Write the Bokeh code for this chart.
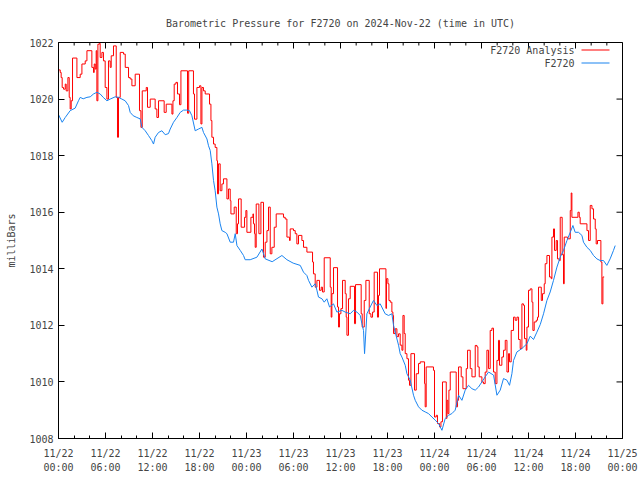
import math
from bokeh.plotting import figure
from bokeh.models import FixedTicker, Label, Arrow
from bokeh.embed import file_html
from bokeh.resources import INLINE

# hours since 2024-11-22 00:00 UTC
blue_hours = [0.0, 0.47, 0.86, 1.49, 2.13, 2.55, 2.77, 3.15, 3.63, 4.05, 4.47, 4.90, 5.32, 5.71,
              6.18, 6.60, 7.24, 7.66, 8.09, 8.51, 8.94, 9.15, 9.54, 10.0, 10.43, 10.65, 11.07,
              11.49, 11.92, 12.13, 12.34, 12.77, 13.2, 13.62, 14.04, 14.26, 14.68, 15.12, 15.54,
              15.96, 16.39, 16.72, 17.03, 17.45, 17.87, 18.31, 18.51, 18.95, 19.15, 19.37, 19.58,
              19.79, 20.0, 20.22, 20.43, 20.64, 20.86, 21.28, 21.5, 21.92, 22.34, 22.56, 22.78,
              23.2, 23.62, 23.83, 24.47, 25.33, 25.97, 26.39, 27.28, 28.52, 29.16, 29.96, 30.86,
              31.28, 31.71, 31.92, 32.35, 32.77, 32.99, 33.19, 33.63, 33.92, 34.26, 34.6, 35.11,
              35.54, 36.18, 36.6, 37.24, 37.66, 38.1, 38.52, 38.73, 38.94, 39.07, 39.37, 39.79,
              40.21, 40.65, 41.07, 41.7, 42.13, 42.56, 42.77, 42.98, 43.41, 43.62, 43.84, 44.26,
              44.48, 44.9, 45.32, 45.54, 45.96, 46.39, 46.81, 47.24, 47.67, 48.09, 48.51, 48.95,
              49.37, 49.79, 50.22, 50.64, 51.07, 51.5, 51.92, 52.34, 52.78, 53.2, 53.62, 54.05,
              54.47, 54.9, 55.54, 55.97, 56.39, 56.81, 57.25, 57.58, 57.88, 58.09, 58.52, 59.16,
              59.8, 60.22, 60.64, 61.07, 61.5, 61.92, 62.35, 62.77, 63.19, 63.63, 64.05, 64.47,
              64.91, 65.33, 65.67, 65.96, 66.38, 66.82, 67.02, 67.46, 67.88, 68.3, 68.73, 69.16,
              69.58, 70.0, 70.42, 70.85, 71.07]
blue_mb = [1019.45, 1019.18, 1019.35, 1019.59, 1019.68, 1019.94, 1020.06, 1020.01, 1020.06,
           1020.08, 1020.18, 1020.24, 1020.18, 1020.06, 1019.94, 1020.0, 1020.08, 1020.06,
           1020.0, 1019.94, 1019.77, 1019.53, 1019.41, 1019.35, 1019.30, 1019.0, 1018.88,
           1018.71, 1018.53, 1018.41, 1018.65, 1018.82, 1018.88, 1018.74, 1018.78, 1018.94,
           1019.18, 1019.35, 1019.53, 1019.61, 1019.61, 1019.59, 1019.41, 1018.88, 1018.94,
           1019.0, 1018.82, 1018.59, 1018.35, 1018.18, 1017.71, 1017.12, 1016.76, 1016.18,
           1015.94, 1015.59, 1015.35, 1015.29, 1015.24, 1014.94, 1014.94, 1015.24, 1014.82,
           1014.65, 1014.47, 1014.32, 1014.32, 1014.41, 1014.7, 1014.35, 1014.25, 1014.47,
           1014.32, 1014.2, 1014.12, 1013.88, 1013.76, 1013.59, 1013.35, 1013.47, 1013.24,
           1013.0, 1012.94, 1012.82, 1012.94, 1012.65, 1012.76, 1012.47, 1012.53, 1012.47,
           1012.41, 1012.53, 1012.47, 1012.35, 1012.06, 1011.82, 1011.0, 1012.41, 1012.65,
           1012.88, 1012.7, 1012.76, 1012.41, 1012.35, 1012.41, 1012.0, 1011.76, 1011.3,
           1011.0, 1010.88, 1010.59, 1010.29, 1010.06, 1009.53, 1009.35, 1009.12, 1009.0,
           1008.94, 1008.88, 1008.76, 1008.65, 1008.53, 1008.29, 1008.71, 1008.82, 1008.88,
           1009.0, 1009.53, 1009.35, 1009.71, 1009.88, 1009.76, 1009.71, 1009.82, 1010.0,
           1010.18, 1010.35, 1010.24, 1009.53, 1009.71, 1010.12, 1010.06, 1009.88, 1010.29,
           1010.76, 1011.06, 1011.18, 1011.35, 1011.62, 1011.5, 1011.76, 1012.03, 1012.41,
           1012.88, 1013.18, 1013.59, 1014.06, 1014.41, 1014.65, 1015.0, 1015.29, 1015.53,
           1015.29, 1015.29, 1015.18, 1014.94, 1014.76, 1014.65, 1014.47, 1014.35, 1014.29,
           1014.29, 1014.12, 1014.35, 1014.65, 1014.82]

red_hours = [0.0, 0.22, 0.34, 0.47, 0.64, 0.86, 0.98, 1.20, 1.37, 1.49, 1.62, 1.79, 2.35, 2.77,
             2.99, 3.41, 3.63, 4.26, 4.47, 4.56, 4.69, 4.81, 4.90, 5.03, 5.23, 5.32, 5.54, 5.74,
             5.96, 6.18, 6.38, 6.60, 6.73, 7.02, 7.37, 7.53, 7.66, 7.88, 8.30, 8.52, 8.94, 9.15,
             9.37, 9.79, 10.34, 10.52, 10.69, 11.20, 11.36, 11.71, 12.34, 12.56, 12.77, 13.49,
             13.75, 14.48, 14.61, 14.77, 14.99, 15.19, 15.45, 15.63, 16.47, 16.62, 17.23, 17.36,
             17.67, 18.00, 18.18, 18.31, 18.51, 18.73, 19.28, 19.46, 19.58, 19.79, 20.00, 20.22,
             20.30, 20.43, 20.64, 20.86, 21.06, 21.50, 21.70, 21.92, 22.01, 22.43, 22.69, 22.85,
             22.98, 23.32, 23.75, 23.92, 24.05, 24.56, 24.82, 24.89, 25.02, 25.11, 25.24, 25.58,
             25.84, 26.17, 26.39, 26.61, 26.81, 27.03, 27.24, 27.54, 27.79, 28.72, 28.94, 29.16,
             29.49, 29.58, 30.00, 30.22, 30.43, 30.64, 31.07, 31.28, 31.71, 32.43, 32.55, 32.77,
             32.99, 33.32, 33.54, 33.70, 33.92, 34.69, 34.81, 34.90, 35.11, 35.62, 35.75, 35.87,
             36.05, 36.26, 36.60, 36.73, 36.82, 37.02, 37.24, 37.79, 37.92, 38.64, 38.77, 39.03,
             39.24, 39.67, 39.88, 40.09, 40.30, 40.72, 40.85, 40.98, 41.80, 41.87, 42.05, 42.18,
             42.35, 42.56, 42.69, 42.77, 42.98, 43.20, 43.41, 43.62, 43.84, 43.97, 44.13, 44.26,
             44.48, 44.68, 44.81, 44.99, 45.45, 45.67, 45.96, 46.18, 46.73, 46.81, 46.94, 47.87,
             48.00, 48.22, 48.38, 48.64, 48.82, 49.02, 49.50, 49.59, 49.71, 49.84, 50.01, 50.77,
             50.94, 51.07, 51.41, 51.63, 52.05, 52.22, 52.56, 52.78, 53.20, 53.42, 53.54, 53.71,
             54.05, 54.26, 54.47, 54.69, 54.90, 55.11, 55.33, 55.53, 55.75, 55.97, 56.17, 56.30,
             56.60, 56.81, 57.03, 57.25, 57.45, 57.58, 57.79, 58.09, 58.30, 58.52, 58.73, 58.94,
             59.16, 59.36, 59.49, 59.71, 59.80, 60.00, 60.22, 60.44, 60.56, 60.73, 60.99, 61.15,
             61.28, 61.63, 61.79, 62.01, 62.13, 62.35, 62.68, 62.90, 62.99, 63.19, 63.32, 63.54,
             63.70, 63.92, 64.05, 64.30, 64.47, 64.56, 64.98, 65.33, 65.45, 65.54, 66.31, 66.48,
             66.60, 67.46, 67.66, 67.88, 68.10, 68.30, 68.52, 68.64, 68.81, 69.24, 69.37, 69.50,
             69.66]
red_mb = [1021.03, 1020.94, 1020.76, 1020.41, 1020.35, 1020.53, 1020.29, 1020.76, 1020.06,
          1019.65, 1019.94, 1021.45, 1020.76, 1020.88, 1021.24, 1021.35, 1021.71, 1021.12,
          1020.94, 1021.24, 1021.06, 1021.71, 1019.94, 1021.94, 1021.97, 1021.47, 1021.65,
          1021.35, 1020.41, 1020.0, 1021.35, 1021.12, 1021.53, 1021.88, 1020.06, 1018.65,
          1020.06, 1021.65, 1021.59, 1021.12, 1020.76, 1020.71, 1020.47, 1020.88, 1019.59,
          1019.0, 1020.29, 1020.41, 1019.71, 1020.0, 1019.65, 1019.35, 1019.94, 1019.53,
          1019.82, 1019.47, 1019.94, 1020.53, 1020.59, 1020.18, 1019.8, 1021.0, 1019.5,
          1021.0, 1020.18, 1019.29, 1020.41, 1020.47, 1019.12, 1020.41, 1020.29, 1020.18,
          1019.82, 1019.24, 1018.65, 1018.41, 1018.29, 1017.82, 1016.65, 1017.71, 1016.76,
          1017.0, 1017.18, 1016.47, 1016.82, 1016.41, 1015.94, 1016.18, 1015.24, 1015.59,
          1016.47, 1015.47, 1015.82, 1016.06, 1015.29, 1015.82, 1015.94, 1015.59, 1015.24,
          1014.76, 1016.29, 1015.24, 1016.35, 1014.41, 1014.94, 1015.35, 1016.18, 1014.53,
          1014.76, 1015.47, 1015.94, 1015.82, 1015.76, 1015.12, 1015.0, 1015.41, 1015.35,
          1015.24, 1014.88, 1015.18, 1015.0, 1014.76, 1014.59, 1014.24, 1013.82, 1013.35,
          1013.59, 1013.24, 1013.35, 1013.18, 1014.39, 1013.35, 1012.29, 1013.12, 1014.04,
          1012.65, 1011.94, 1012.41, 1012.59, 1013.59, 1013.12, 1012.29, 1011.65, 1012.94,
          1013.38, 1012.06, 1013.44, 1012.41, 1011.94, 1012.88, 1013.59, 1012.41, 1012.29,
          1012.47, 1013.88, 1012.29, 1013.06, 1014.0, 1012.6, 1013.65, 1013.47, 1012.88,
          1012.82, 1012.47, 1012.35, 1011.71, 1011.88, 1011.6, 1011.7, 1011.3, 1011.12,
          1012.35, 1011.71, 1011.0, 1010.82, 1010.06, 1009.88, 1011.0, 1009.71, 1010.29,
          1010.65, 1010.71, 1009.94, 1009.12, 1010.53, 1010.41, 1008.76, 1008.82, 1008.53,
          1008.41, 1008.59, 1010.0, 1008.71, 1009.35, 1008.88, 1009.71, 1010.35, 1009.12,
          1009.35, 1010.53, 1010.18, 1009.76, 1010.47, 1011.12, 1010.47, 1010.18, 1011.29,
          1011.24, 1010.53, 1010.18, 1010.0, 1009.94, 1010.35, 1011.12, 1010.47, 1011.82,
          1011.9, 1010.35, 1009.94, 1010.76, 1011.47, 1010.59, 1010.88, 1011.12, 1011.47,
          1010.35, 1011.0, 1010.71, 1011.82, 1012.29, 1012.18, 1012.29, 1011.5, 1011.18,
          1012.76, 1012.71, 1011.53, 1011.12, 1011.94, 1013.24, 1013.29, 1012.82, 1011.82,
          1012.12, 1012.18, 1012.29, 1013.35, 1012.88, 1013.12, 1013.47, 1014.18, 1014.47,
          1013.71, 1013.65, 1015.12, 1015.41, 1014.65, 1015.0, 1014.35, 1014.29, 1015.82,
          1014.5, 1013.47, 1015.12, 1015.06, 1016.06, 1016.68, 1015.82, 1016.0, 1015.82,
          1015.59, 1015.35, 1015.0, 1016.24, 1016.12, 1015.76, 1015.41, 1014.88, 1015.0,
          1014.24, 1012.76, 1013.71, 1013.71]

x_tick_hours = [0, 6, 12, 18, 24, 30, 36, 42, 48, 54, 60, 66, 72]
x_tick_labels = ["11/22\n00:00", "11/22\n06:00", "11/22\n12:00", "11/22\n18:00",
                 "11/23\n00:00", "11/23\n06:00", "11/23\n12:00", "11/23\n18:00",
                 "11/24\n00:00", "11/24\n06:00", "11/24\n12:00", "11/24\n18:00",
                 "11/25\n00:00"]
x_minor_hours = [h for h in range(0, 73, 2) if h % 6 != 0]
y_ticks = [1008, 1010, 1012, 1014, 1016, 1018, 1020, 1022]

title_text = "Barometric Pressure for F2720 on 2024-Nov-22 (time in UTC)"
series_names = ["F2720 Analysis", "F2720"]
series_colors = ["#ff0000", "#1a84f0"]

FONT = "DejaVu Sans Mono"
X0, X1 = 0, 72
Y0, Y1 = 1008, 1022

p = figure(width=640, height=480, x_range=(X0, X1), y_range=(Y0, Y1),
           output_backend="svg", toolbar_location=None,
           min_border_left=58, min_border_right=18, min_border_top=42, min_border_bottom=42,
           title=title_text)
p.title.align = "center"
p.title.text_font = FONT
p.title.text_font_size = "10px"
p.title.text_font_style = "normal"
p.title.standoff = 28

p.grid.visible = False
p.outline_line_color = "black"
p.outline_line_width = 1
p.background_fill_color = "white"
p.border_fill_color = "white"

xa = p.xaxis[0]
xa.ticker = FixedTicker(ticks=x_tick_hours, minor_ticks=x_minor_hours)
xa.major_label_overrides = {h: lab for h, lab in zip(x_tick_hours, x_tick_labels)}
xa.major_tick_in = 6
xa.major_tick_out = 0
xa.minor_tick_in = 3
xa.minor_tick_out = 0
xa.major_label_standoff = 9
xa.major_label_text_font = FONT
xa.major_label_text_font_size = "10px"
xa.major_label_text_line_height = 1.3
xa.axis_line_color = "black"

ya = p.yaxis[0]
ya.ticker = FixedTicker(ticks=y_ticks, minor_ticks=[])
ya.major_tick_in = 6
ya.major_tick_out = 0
ya.minor_tick_line_color = None
ya.major_label_standoff = 5
ya.major_label_text_font = FONT
ya.major_label_text_font_size = "10px"
ya.axis_label = "milliBars"
ya.axis_label_text_font = FONT
ya.axis_label_text_font_size = "10px"
ya.axis_label_text_font_style = "normal"
ya.axis_label_standoff = 9

# mirrored inward tick marks on the top and right borders (half of each dash is clipped)
p.scatter(x_tick_hours, [Y1] * len(x_tick_hours), marker="dash", angle=math.pi / 2,
          size=12, line_color="black", line_width=1)
p.scatter(x_minor_hours, [Y1] * len(x_minor_hours), marker="dash", angle=math.pi / 2,
          size=6, line_color="black", line_width=1)
p.scatter([X1] * len(y_ticks), y_ticks, marker="dash", size=12,
          line_color="black", line_width=1)

p.step(red_hours, red_mb, mode="after", line_color=series_colors[0], line_width=1)
p.line(blue_hours, blue_mb, line_color=series_colors[1], line_width=1)

# gnuplot-style key: text right-aligned, sample line to its right
for i, (name, col) in enumerate(zip(series_names, series_colors)):
    yy = 388.5 - 13 * i
    p.add_layout(Label(x=516, y=yy, x_units="screen", y_units="screen", text=name,
                       text_align="right", text_baseline="middle", text_font=FONT,
                       text_font_size="10px"))
    p.add_layout(Arrow(end=None, x_start=523, y_start=yy, x_end=551, y_end=yy,
                       start_units="screen", end_units="screen",
                       line_color=col, line_width=1.2))

open("out.html", "w").write(file_html(p, INLINE))
